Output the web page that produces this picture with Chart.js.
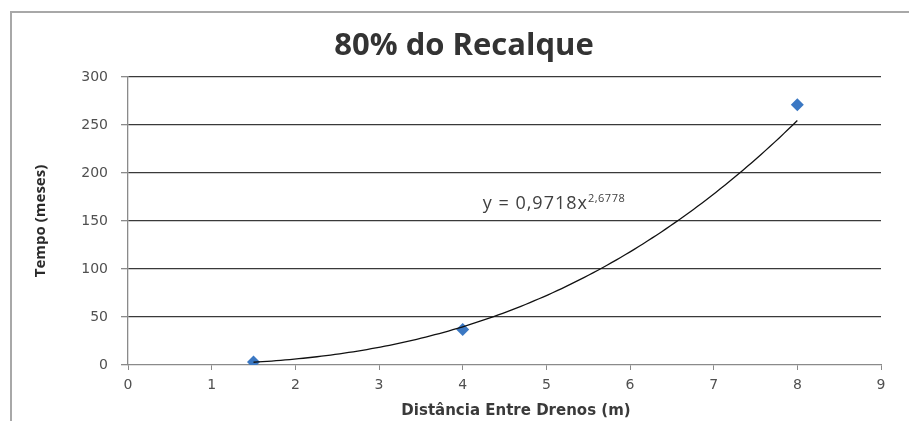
<!DOCTYPE html>
<html>
<head>
<meta charset="utf-8">
<style>
  html, body { margin: 0; padding: 0; background: #fff; }
  #wrap { width: 909px; height: 421px; position: relative; }
</style>
<script src="https://cdn.jsdelivr.net/npm/chart.js@4/dist/chart.umd.min.js"></script>
</head>
<body>
<div id="wrap"><canvas id="c" width="909" height="421"></canvas></div>
<script>
// Measured drain spacing (m) and time to 80% settlement (months)
const spacing = [1.5, 4, 8];
const months = [3, 37, 271];

// Power trendline y = a * x^b, as printed on the chart
const trendA = 0.9718;
const trendB = 2.6778;
const trendLabel = 'y = 0,9718x';
const trendExpLabel = '2,6778';

const xTicks = [0, 1, 2, 3, 4, 5, 6, 7, 8, 9];
const yTicks = [0, 50, 100, 150, 200, 250, 300];

const chartTitle = '80% do Recalque';
const xTitle = 'Distância Entre Drenos (m)';
const yTitle = 'Tempo (meses)';

// trendline sampled across the measured range
const trendPts = [];
const x0 = Math.min(...spacing), x1 = Math.max(...spacing);
for (let i = 0; i <= 120; i++) {
  const x = x0 + (x1 - x0) * i / 120;
  trendPts.push({ x: x, y: trendA * Math.pow(x, trendB) });
}

const points = spacing.map((x, i) => ({ x: x, y: months[i] }));

const decor = {
  id: 'decor',
  beforeDraw(chart) {
    const ctx = chart.ctx;
    ctx.save();
    ctx.fillStyle = '#fff';
    ctx.fillRect(0, 0, chart.width, chart.height);
    ctx.strokeStyle = '#a8a8a8';
    ctx.lineWidth = 2;
    ctx.beginPath();
    ctx.moveTo(11, chart.height);
    ctx.lineTo(11, 12);
    ctx.lineTo(chart.width, 12);
    ctx.stroke();
    ctx.restore();
  },
  afterDraw(chart) {
    const ctx = chart.ctx;
    const xs = chart.scales.x, ys = chart.scales.y;
    ctx.save();
    // chart title
    ctx.fillStyle = '#333';
    ctx.font = 'bold 31px "Open Sans"';
    ctx.textAlign = 'center';
    ctx.textBaseline = 'alphabetic';
    ctx.fillText(chartTitle, 464, 55);
    // x axis title
    ctx.fillStyle = '#3a3a3a';
    ctx.font = 'bold 15px "DejaVu Sans"';
    ctx.fillText(xTitle, 516, 415);
    // trendline equation
    ctx.fillStyle = '#404040';
    ctx.textAlign = 'left';
    ctx.font = '18px "Open Sans"';
    ctx.letterSpacing = '1px';
    const ex = xs.getPixelForValue(4.24);
    const ey = ys.getPixelForValue(162.5);
    ctx.fillText(trendLabel, ex, ey);
    const w = ctx.measureText(trendLabel).width;
    ctx.font = '11px "Open Sans"';
    ctx.letterSpacing = '0.5px';
    ctx.fillText(trendExpLabel, ex + w, ey - 7);
    ctx.restore();
  }
};

new Chart(document.getElementById('c'), {
  type: 'scatter',
  data: {
    datasets: [
      {
        label: 'Tempo',
        data: points,
        pointStyle: 'rectRot',
        pointRadius: 6.5,
        pointHoverRadius: 6.5,
        backgroundColor: '#3b78c3',
        borderColor: '#3b78c3',
        borderWidth: 0,
        order: 1
      },
      {
        label: 'Tendência',
        type: 'line',
        data: trendPts,
        borderColor: '#111',
        borderWidth: 1.3,
        pointRadius: 0,
        fill: false,
        tension: 0,
        order: 0
      }
    ]
  },
  options: {
    responsive: false,
    animation: false,
    events: [],
    layout: { padding: { top: 77, left: 12, right: 28, bottom: 0 } },
    plugins: {
      legend: { display: false },
      title: { display: false },
      tooltip: { enabled: false }
    },
    scales: {
      x: {
        type: 'linear',
        min: 0, max: 9,
        afterBuildTicks: s => { s.ticks = xTicks.map(v => ({ value: v })); },
        afterFit: s => { s.height = 56; },
        grid: { drawOnChartArea: false, color: '#8a8a8a', tickLength: 5, tickColor: '#8a8a8a' },
        border: { color: '#8a8a8a', width: 1.3 },
        ticks: { color: '#505050', font: { family: 'DejaVu Sans', size: 14 }, padding: 7 }
      },
      y: {
        type: 'linear',
        min: 0, max: 300,
        afterBuildTicks: s => { s.ticks = yTicks.map(v => ({ value: v })); },
        afterFit: s => { s.width = 116; },
        grid: {
          color: ctx => (ctx.tick && ctx.tick.value === 0) ? 'rgba(0,0,0,0)' : '#3a3a3a',
          lineWidth: 1.3,
          tickLength: 7,
          tickColor: '#8a8a8a'
        },
        border: { color: '#8a8a8a', width: 1.3 },
        ticks: { color: '#505050', font: { family: 'DejaVu Sans', size: 14 }, padding: 13 },
        title: {
          display: true, text: yTitle, color: '#2a2a2a',
          font: { family: 'Open Sans', size: 15, weight: 'bold' },
          padding: { top: 20, bottom: 0 }
        }
      }
    }
  },
  plugins: [decor]
});
</script>
</body>
</html>
